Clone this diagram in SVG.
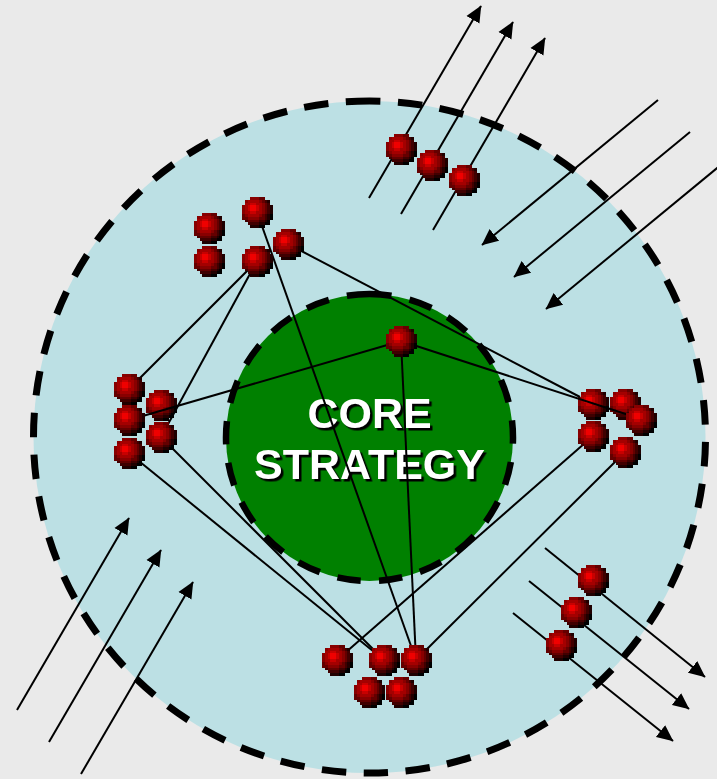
<svg xmlns="http://www.w3.org/2000/svg" xmlns:xlink="http://www.w3.org/1999/xlink" width="717" height="779" viewBox="0 0 717 779">
<style>
.zone{stroke:#000;stroke-width:7}
#core .zone{stroke-width:6.5}
.c line{stroke:#000;stroke-width:2}
.a{marker-end:url(#h)}
.t{font:bold 43px "Liberation Sans",Arial,sans-serif;text-anchor:middle;fill:#fff;filter:url(#sh)}
.A{fill:#f00000}.B{fill:#c80000}.C{fill:#a40000}.D{fill:#880000}.E{fill:#640000}.F{fill:#400000}.G{fill:#200000}.K{fill:#000}
#ball rect{height:3px;width:3px}
#ball rect.w6{width:6px}#ball rect.w9{width:9px}#ball rect.w12{width:12px}#ball rect.h6{height:6px}
</style>
<defs>
<marker id="h" markerUnits="userSpaceOnUse" markerWidth="18" markerHeight="16" refX="16" refY="8" orient="auto"><path d="M0 0.5L16.5 8L0 15.5Z"/></marker>
<filter id="sh" x="-5%" y="-10%" width="110%" height="120%" color-interpolation-filters="sRGB"><feDropShadow dx="2.5" dy="2.5" stdDeviation="0.3" flood-color="#000"/></filter>
<g id="ball" transform="translate(-15.175 -15.175) scale(.95)" shape-rendering="crispEdges">
<rect class="D w9" x="9" y="0"/><rect class="E w6" x="18" y="0"/>
<rect class="D" x="3" y="3"/><rect class="C w12" x="6" y="3"/><rect class="D" x="18" y="3"/><rect class="E" x="21" y="3"/><rect class="F" x="24" y="3"/><rect class="G" x="27" y="3"/>
<rect class="C w6" x="3" y="6"/><rect class="B w6" x="9" y="6"/><rect class="C w6" x="15" y="6"/><rect class="D" x="21" y="6"/><rect class="E" x="24" y="6"/><rect class="F" x="27" y="6"/>
<rect class="D h6" x="0" y="9"/><rect class="C h6" x="3" y="9"/><rect class="B h6" x="6" y="9"/><rect class="A w6 h6" x="9" y="9"/><rect class="B h6" x="15" y="9"/><rect class="C h6" x="18" y="9"/><rect class="D h6" x="21" y="9"/><rect class="E h6" x="24" y="9"/><rect class="F h6" x="27" y="9"/><rect class="G h6" x="30" y="9"/>
<rect class="D" x="0" y="15"/><rect class="C w6" x="3" y="15"/><rect class="B w6" x="9" y="15"/><rect class="C w6" x="15" y="15"/><rect class="D" x="21" y="15"/><rect class="E" x="24" y="15"/><rect class="F" x="27" y="15"/><rect class="G" x="30" y="15"/>
<rect class="E" x="0" y="18"/><rect class="D" x="3" y="18"/><rect class="C w12" x="6" y="18"/><rect class="D" x="18" y="18"/><rect class="E" x="21" y="18"/><rect class="F" x="24" y="18"/><rect class="G" x="27" y="18"/><rect class="K" x="30" y="18"/>
<rect class="E w6" x="0" y="21"/><rect class="D w12" x="6" y="21"/><rect class="E w6" x="18" y="21"/><rect class="F" x="24" y="21"/><rect class="G" x="27" y="21"/><rect class="K" x="30" y="21"/>
<rect class="F" x="3" y="24"/><rect class="E w12" x="6" y="24"/><rect class="F w6" x="18" y="24"/><rect class="G" x="24" y="24"/><rect class="K" x="27" y="24"/>
<rect class="F w12" x="6" y="27"/><rect class="G w6" x="18" y="27"/><rect class="K w6" x="24" y="27"/>
<rect class="G w9" x="9" y="30"/><rect class="K w6" x="18" y="30"/>
</g>
</defs>
<rect width="717" height="779" fill="#eaeaea"/>
<g id="outer-zone"><circle class="zone" cx="369.5" cy="437" r="336" fill="#bce0e4" stroke-dasharray="24.5 17.5" stroke-dashoffset="13.5" transform="rotate(-90 369.5 437)"/></g>
<g id="core"><circle class="zone" cx="369.5" cy="437.5" r="143.5" fill="#008000" stroke-dasharray="23.5 18.4" stroke-dashoffset="1.4" transform="rotate(-90 369.5 437.5)"/>
<text class="t" x="369.5" y="428">CORE</text><text class="t" x="369.5" y="479">STRATEGY</text></g>
<g id="back-nodes">
<use id="left-2" xlink:href="#ball" x="161" y="405"/>
<use id="right-1" xlink:href="#ball" x="593" y="404"/>
<use id="right-2" xlink:href="#ball" x="625" y="404"/>
</g>
<g id="connectors" class="c">
<line class="a" x1="369" y1="198" x2="481" y2="6"/><line class="a" x1="401" y1="214" x2="513" y2="22"/><line class="a" x1="433" y1="230" x2="545" y2="38"/>
<line class="a" x1="658" y1="100" x2="482" y2="245"/><line class="a" x1="690" y1="132" x2="514" y2="277"/><line class="a" x1="722" y1="164" x2="546" y2="309"/>
<line class="a" x1="17" y1="710" x2="129" y2="518"/><line class="a" x1="49" y1="742" x2="161" y2="550"/><line class="a" x1="81" y1="774" x2="193" y2="582"/>
<line class="a" x1="545" y1="548" x2="705" y2="677"/><line class="a" x1="529" y1="581" x2="689" y2="709"/><line class="a" x1="513" y1="613" x2="673" y2="741"/>
<line x1="129" y1="389" x2="257" y2="261"/><line x1="161" y1="437" x2="257" y2="261"/>
<line x1="288" y1="244" x2="580" y2="397"/><line x1="129" y1="420" x2="401" y2="341"/><line x1="401" y1="341" x2="641" y2="419"/>
<line x1="257" y1="212" x2="416" y2="660"/><line x1="401" y1="341" x2="416" y2="660"/>
<line x1="129" y1="453" x2="384" y2="660"/><line x1="161" y1="437" x2="384" y2="660"/>
<line x1="593" y1="436" x2="337" y2="660"/><line x1="625" y1="452" x2="416" y2="660"/>
</g>
<g id="top-cluster"><use xlink:href="#ball" x="401" y="149"/><use xlink:href="#ball" x="432" y="165"/><use xlink:href="#ball" x="464" y="180"/></g>
<g id="upper-left-cluster"><use xlink:href="#ball" x="209" y="228"/><use xlink:href="#ball" x="257" y="212"/><use xlink:href="#ball" x="288" y="244"/><use xlink:href="#ball" x="209" y="261"/><use xlink:href="#ball" x="257" y="261"/></g>
<g id="left-cluster"><use xlink:href="#ball" x="129" y="389"/><use xlink:href="#ball" x="129" y="420"/><use xlink:href="#ball" x="129" y="453"/><use xlink:href="#ball" x="161" y="437"/></g>
<g id="right-cluster"><use xlink:href="#ball" x="641" y="420"/><use xlink:href="#ball" x="593" y="436"/><use xlink:href="#ball" x="625" y="452"/></g>
<g id="bottom-cluster"><use xlink:href="#ball" x="337" y="660"/><use xlink:href="#ball" x="384" y="660"/><use xlink:href="#ball" x="416" y="660"/><use xlink:href="#ball" x="369" y="692"/><use xlink:href="#ball" x="401" y="692"/></g>
<g id="lower-right-cluster"><use xlink:href="#ball" x="593" y="580"/><use xlink:href="#ball" x="576" y="612"/><use xlink:href="#ball" x="561" y="645"/></g>
<g id="core-node"><use xlink:href="#ball" x="401" y="341"/></g>
</svg>
